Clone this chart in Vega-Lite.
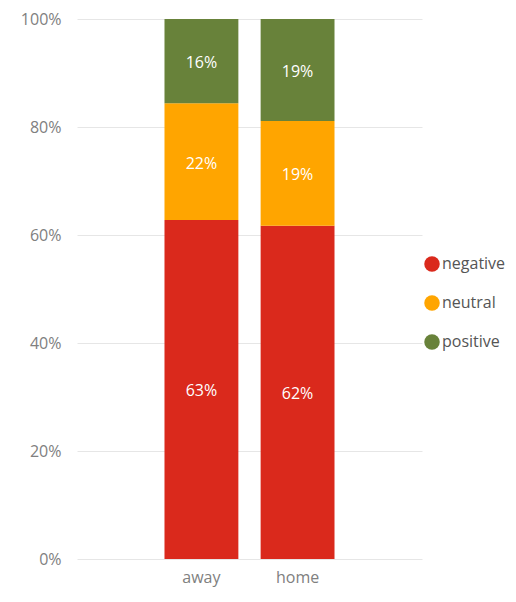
{
  "$schema": "https://vega.github.io/schema/vega-lite/v6.json",
  "autosize": {"type": "none"},
  "width": 345,
  "height": 540,
  "padding": {"left": 77, "top": 19, "right": 94, "bottom": 43},
  "background": "white",
  "config": {
    "view": {"stroke": null},
    "font": "Open Sans"
  },
  "data": {
    "values": [
      {"side": "away", "sentiment": "negative", "value": 0.628, "order": 1},
      {"side": "away", "sentiment": "neutral", "value": 0.216, "order": 2},
      {"side": "away", "sentiment": "positive", "value": 0.156, "order": 3},
      {"side": "home", "sentiment": "negative", "value": 0.617, "order": 1},
      {"side": "home", "sentiment": "neutral", "value": 0.194, "order": 2},
      {"side": "home", "sentiment": "positive", "value": 0.189, "order": 3}
    ]
  },
  "transform": [
    {"stack": "value", "groupby": ["side"], "sort": [{"field": "order", "order": "ascending"}], "offset": "normalize", "as": ["y0", "y1"]},
    {"calculate": "(datum.y0 + datum.y1) / 2", "as": "mid"}
  ],
  "encoding": {
    "x": {
      "field": "side",
      "type": "nominal",
      "scale": {"paddingInner": 0.2316, "paddingOuter": 0.91},
      "axis": {"title": null, "labelAngle": 0, "domain": false, "ticks": false, "labelFontSize": 16, "labelColor": "#808080", "labelPadding": 10, "labelFont": "Open Sans"}
    }
  },
  "layer": [
    {
      "mark": {"type": "bar"},
      "encoding": {
        "y": {
          "field": "y1",
          "type": "quantitative",
          "scale": {"domain": [0, 1]},
          "axis": {"title": null, "format": ".0%", "values": [0, 0.2, 0.4, 0.6, 0.8, 1], "domain": false, "ticks": false, "labelFontSize": 16, "labelColor": "#808080", "labelPadding": 16, "gridColor": "#e6e6e6", "gridWidth": 1, "labelFont": "Open Sans"}
        },
        "y2": {"field": "y0"},
        "color": {
          "field": "sentiment",
          "type": "nominal",
          "scale": {"domain": ["negative", "neutral", "positive"], "range": ["#DA291C", "#FFA500", "#68823A"]},
          "legend": {
            "title": null,
            "orient": "none",
            "legendX": 347,
            "legendY": 237,
            "symbolType": "circle",
            "symbolSize": 240,
            "symbolStrokeWidth": 0,
            "labelFontSize": 16,
            "labelColor": "#555555",
            "labelOffset": 2,
            "rowPadding": 23,
            "labelFont": "Open Sans"
          }
        }
      }
    },
    {
      "mark": {"type": "text", "color": "white", "fontSize": 16, "fontWeight": 500, "font": "Open Sans", "dy": 2},
      "encoding": {
        "y": {"field": "mid", "type": "quantitative"},
        "text": {"field": "value", "type": "quantitative", "format": ".0%"}
      }
    }
  ]
}
